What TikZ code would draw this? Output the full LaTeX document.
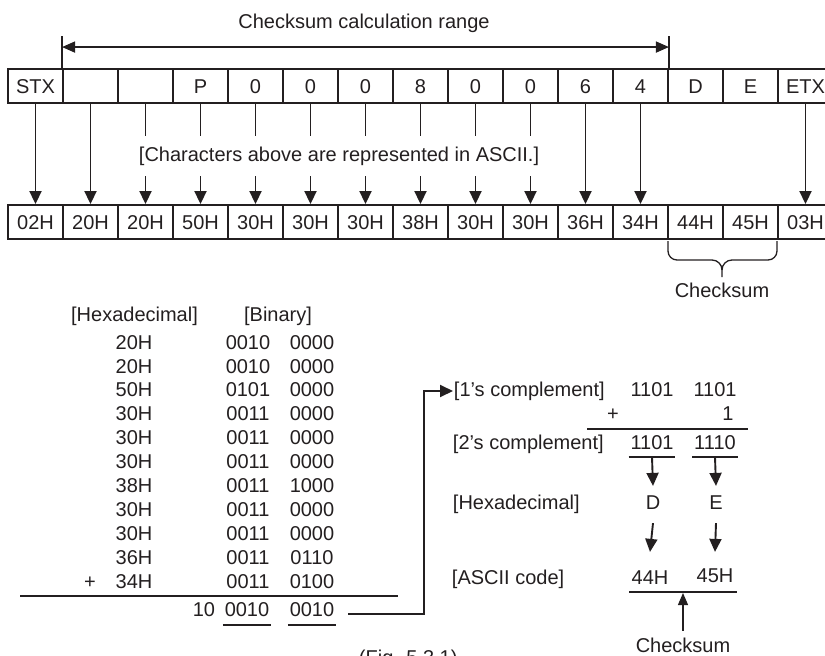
\documentclass[tikz,border=0pt]{standalone}
\usepackage{fontspec}
\setmainfont{Liberation Sans}
\usetikzlibrary{arrows.meta}
\definecolor{ink}{RGB}{35,31,32}
\begin{document}
\begin{tikzpicture}[x=1pt,y=-1pt,
  font=\fontsize{20}{24}\selectfont, line width=1.9pt, color=ink,
  txt/.style={inner sep=0pt, text height=14.3pt, text depth=0pt},
  cell/.style={txt, draw, minimum width=55pt, minimum height=34pt},
  arr/.style={-{Triangle[length=13pt,width=12pt]}},
  sarr/.style={line width=1.3pt,-{Triangle[length=12pt,width=10pt]}},
  thinln/.style={line width=1.3pt}]
\useasboundingbox (0,0) rectangle (825,656);

% title and range
\node[txt] (title) at (364,21) {Checksum calculation range};

% top and bottom rows
\foreach \l [count=\i from 0] in {STX,{},{},P,0,0,0,8,0,0,6,4,D,E,ETX}
  \node[cell] (t\i) at ({35.5+55*\i},86) {\l};
\foreach \l [count=\i from 0] in {02H,20H,20H,50H,30H,30H,30H,38H,30H,30H,36H,34H,44H,45H,03H}
  \node[cell] (b\i) at ({35.5+55*\i},222) {\l};

\draw[thinln] (t1.north west) -- ++(0,-32);
\draw[thinln] (t11.north east) -- ++(0,-32);
\draw[line width=1.6pt,{Triangle[length=13pt,width=11pt]}-{Triangle[length=13pt,width=11pt]}]
  ([yshift=21pt]t1.north west) -- ([yshift=21pt]t11.north east);

% long arrows
\foreach \i in {0,1,10,11,14}
  \draw[arr] (t\i.south) -- (b\i.north);
% broken arrows
\foreach \i in {2,...,9}{
  \draw (t\i.south) -- ++(0,32);
  \draw[arr] ([yshift=28pt]b\i.north) -- (b\i.north);
}
\node[txt,anchor=west] (note) at (138,154) {[Characters above are represented in ASCII.]};

% brace
\draw[thinln] (668,241) -- (668,251) to[out=-90,in=180] (677,260) -- (712,260)
  to[out=0,in=90] (722,270) -- (722,277);
\draw[thinln] (777,241) -- (777,251) to[out=-90,in=0] (768,260) -- (732,260)
  to[out=180,in=90] (722,270);
\node[txt] (cs1) at (722,290) {Checksum};

% addition
\node[txt] (hexh) at (134.5,314) {[Hexadecimal]};
\node[txt] (binh) at (278,314) {[Binary]};
\foreach \h/\a/\b [count=\k from 0] in {20H/0010/0000,20H/0010/0000,50H/0101/0000,
  30H/0011/0000,30H/0011/0000,30H/0011/0000,38H/0011/1000,30H/0011/0000,
  30H/0011/0000,36H/0011/0110,34H/0011/0100}{
  \node[txt] (h\k) at (134,{342+23.9*\k}) {\h};
  \node[txt] (bh\k) at (248,{342+23.9*\k}) {\a};
  \node[txt] (bl\k) at (312,{342+23.9*\k}) {\b};
}
\node[txt] (plus1) at (90,581) {+};
\draw (20,596) -- (398,596);
\node[txt,anchor=east] (r0) at (216,609.5) {10};
\node[txt] (r1) at (247,609.5) {0010};
\node[txt] (r2) at (312,609.5) {0010};
\draw ([yshift=-7pt,xshift=-1pt]r1.south west) -- ([yshift=-7pt,xshift=1pt]r1.south east);
\draw ([yshift=-7pt,xshift=-1pt]r2.south west) -- ([yshift=-7pt,xshift=1pt]r2.south east);

% complement
\node[txt,anchor=west] (ones) at (453,389) {[1’s complement]};
\node[txt] (o1) at (652,389) {1101};
\node[txt] (o2) at (715,389) {1101};
\node[txt] (plus2) at (613,413) {+};
\node[txt] (one) at (728,413) {1};
\draw (587,429) -- (748,429);
\node[txt,anchor=west] (twos) at (452,442) {[2’s complement]};
\node[txt] (w1) at (652,442) {1101};
\node[txt] (w2) at (715,442) {1110};
\draw ([yshift=-7pt,xshift=-1pt]w1.south west) -- ([yshift=-7pt,xshift=1pt]w1.south east);
\draw ([yshift=-7pt,xshift=-1pt]w2.south west) -- ([yshift=-7pt,xshift=1pt]w2.south east);

\node[txt,anchor=west] (hexr) at (452,502) {[Hexadecimal]};
\node[txt] (d) at (653,502) {D};
\node[txt] (e) at (716,502) {E};
\draw[arr] ([yshift=-7pt]w1.south) -- ([yshift=8pt]d.north);
\draw[arr] ([yshift=-7pt]w2.south) -- ([yshift=8pt]e.north);

\node[txt,anchor=west] (asc) at (451,577) {[ASCII code]};
\node[txt] (a1) at (650,577) {44H};
\node[txt] (a2) at (715,575) {45H};
\draw[arr] ([yshift=-13pt]d.south) -- ([yshift=17pt]a1.north);
\draw[arr] ([yshift=-13pt]e.south) -- ([yshift=15pt]a2.north);
\draw (629,592) -- (737,592);
\node[txt] (cs2) at (683,645) {Checksum};
\draw[sarr] ([yshift=6pt]cs2.north) -- (683,593);

% connector
\coordinate (cstart) at (348,614);
\draw[arr] (cstart) -- (424,614) |- ([yshift=-2pt]ones.west);

\node[txt,anchor=west] (cap) at (358,657) {(Fig. 5.3.1)};
\end{tikzpicture}
\end{document}
